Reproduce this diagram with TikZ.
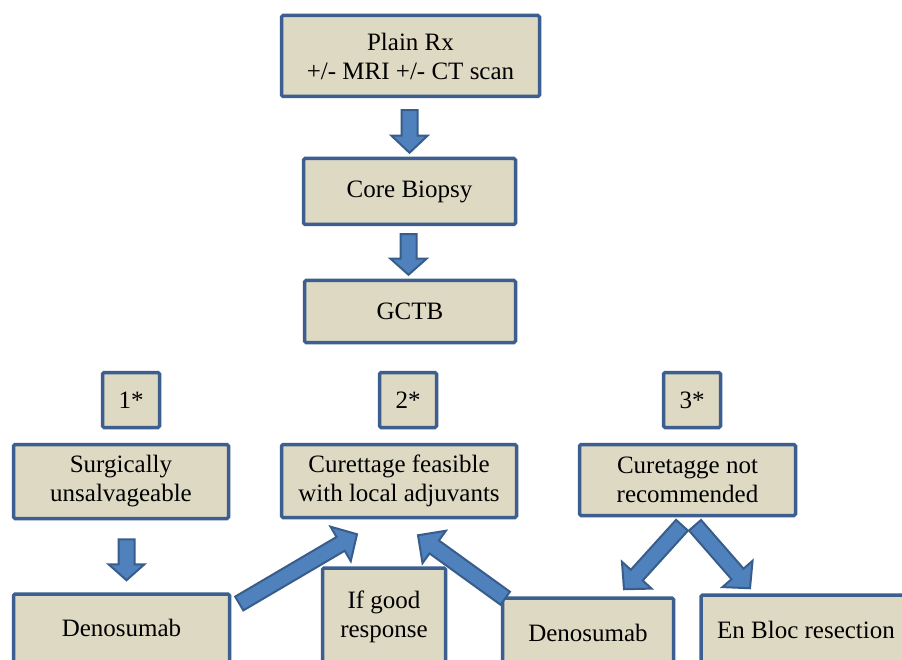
\documentclass[tikz,border=0pt]{standalone}
\usepackage{fontspec}
\setmainfont{Liberation Serif}
\usetikzlibrary{calc}
\definecolor{boxfill}{HTML}{DDD9C3}
\definecolor{boxline}{HTML}{3C5F8F}
\definecolor{arrfill}{HTML}{4F81BD}
\definecolor{arrline}{HTML}{385D8A}
\tikzset{
  box/.style={draw=boxline, fill=boxfill, line width=3.5pt, rounded corners=1.5pt,
    align=center, font=\fontsize{25}{29}\selectfont, inner sep=0pt},
  barrow/.style={draw=arrline, fill=arrfill, line width=2pt, line join=miter},
}
% tail, tip, shaft half-width, head half-width, head length, name
\newcommand\blockarrow[6]{%
  \coordinate (#6n) at ($(#2)!#5!(#1)$);
  \draw[barrow] ($(#1)!#3!90:(#2)$) -- ($(#6n)!#3!90:(#2)$) -- ($(#6n)!#4!90:(#2)$)
    -- (#2) -- ($(#6n)!#4!-90:(#2)$) -- ($(#6n)!#3!-90:(#2)$) -- ($(#1)!#3!-90:(#2)$) -- cycle;
}
\begin{document}
\begin{tikzpicture}[x=1pt,y=-1pt]
\useasboundingbox[fill=white] (0,0) rectangle (902,660);
\clip (0,0) rectangle (902,660);
% boxes
\node[box, minimum width=258pt, minimum height=81pt] (top) at (410.5,56) {Plain Rx\\+/- MRI +/- CT scan};
\node[box, minimum width=212pt, minimum height=66pt] (core) at (409.5,191.5) {Core Biopsy};
\node[box, minimum width=211pt, minimum height=62pt] (gctb) at (410,311.5) {GCTB};
\node[box, minimum width=57pt, minimum height=55pt] (s1) at (131,400) {1*};
\node[box, minimum width=57pt, minimum height=55pt] (s2) at (408,400) {2*};
\node[box, minimum width=57pt, minimum height=55pt] (s3) at (692,400) {3*};
\node[box, minimum width=215pt, minimum height=74pt] (surg) at (121,481.5) {Surgically\\unsalvageable};
\node[box, minimum width=235pt, minimum height=73pt] (cur) at (399,481) {Curettage feasible\\with local adjuvants};
\node[box, minimum width=216pt, minimum height=71pt] (curnot) at (687.5,480) {Curetagge not\\recommended};
\node[box, minimum width=216pt, minimum height=68pt] (den1) at (121.5,628) {Denosumab};
\node[box, minimum width=123pt, minimum height=98pt] (good) at (384,617) {If good\\response};
\node[box, minimum width=171pt, minimum height=70pt] (den2) at (588,633) {Denosumab};
\node[box, minimum width=210pt, minimum height=70pt] (enbloc) at (806,630) {En Bloc resection};
% arrow end points
\coordinate (a1s) at ($(top.south)+(-1,12)$);
\coordinate (a1e) at ($(core.north)+(0,-4)$);
\coordinate (a2s) at ($(core.south)+(-1,8)$);
\coordinate (a2e) at ($(gctb.north)+(-1.5,-4)$);
\coordinate (a3s) at ($(surg.south)+(5.5,19)$);
\coordinate (a3e) at ($(den1.north)+(5,-12)$);
\coordinate (a4s) at ($(den1.east)+(8,-24.5)$);
\coordinate (a4e) at ($(cur.south)+(-42,15)$);
\coordinate (a5s) at ($(den2.north west)+(4.5,2)$);
\coordinate (a5e) at ($(cur.south)+(19,16)$);
\coordinate (a6s) at ($(curnot.south)+(-5.5,8)$);
\coordinate (a6e) at ($(den2.north)+(36,-7)$);
\coordinate (a7s) at ($(curnot.south)+(7.5,8)$);
\coordinate (a7e) at ($(enbloc.north)+(-56,-5)$);
% block arrows
\blockarrow{a1s}{a1e}{8pt}{18pt}{17pt}{a1}
\blockarrow{a2s}{a2e}{8pt}{18pt}{16pt}{a2}
\blockarrow{a3s}{a3e}{8pt}{18pt}{16pt}{a3}
\blockarrow{a4s}{a4e}{8pt}{20pt}{19pt}{a4}
\blockarrow{a5s}{a5e}{8pt}{20pt}{20pt}{a5}
\blockarrow{a6s}{a6e}{8pt}{20pt}{19pt}{a6}
\blockarrow{a7s}{a7e}{8pt}{20pt}{19pt}{a7}
\end{tikzpicture}
\end{document}
